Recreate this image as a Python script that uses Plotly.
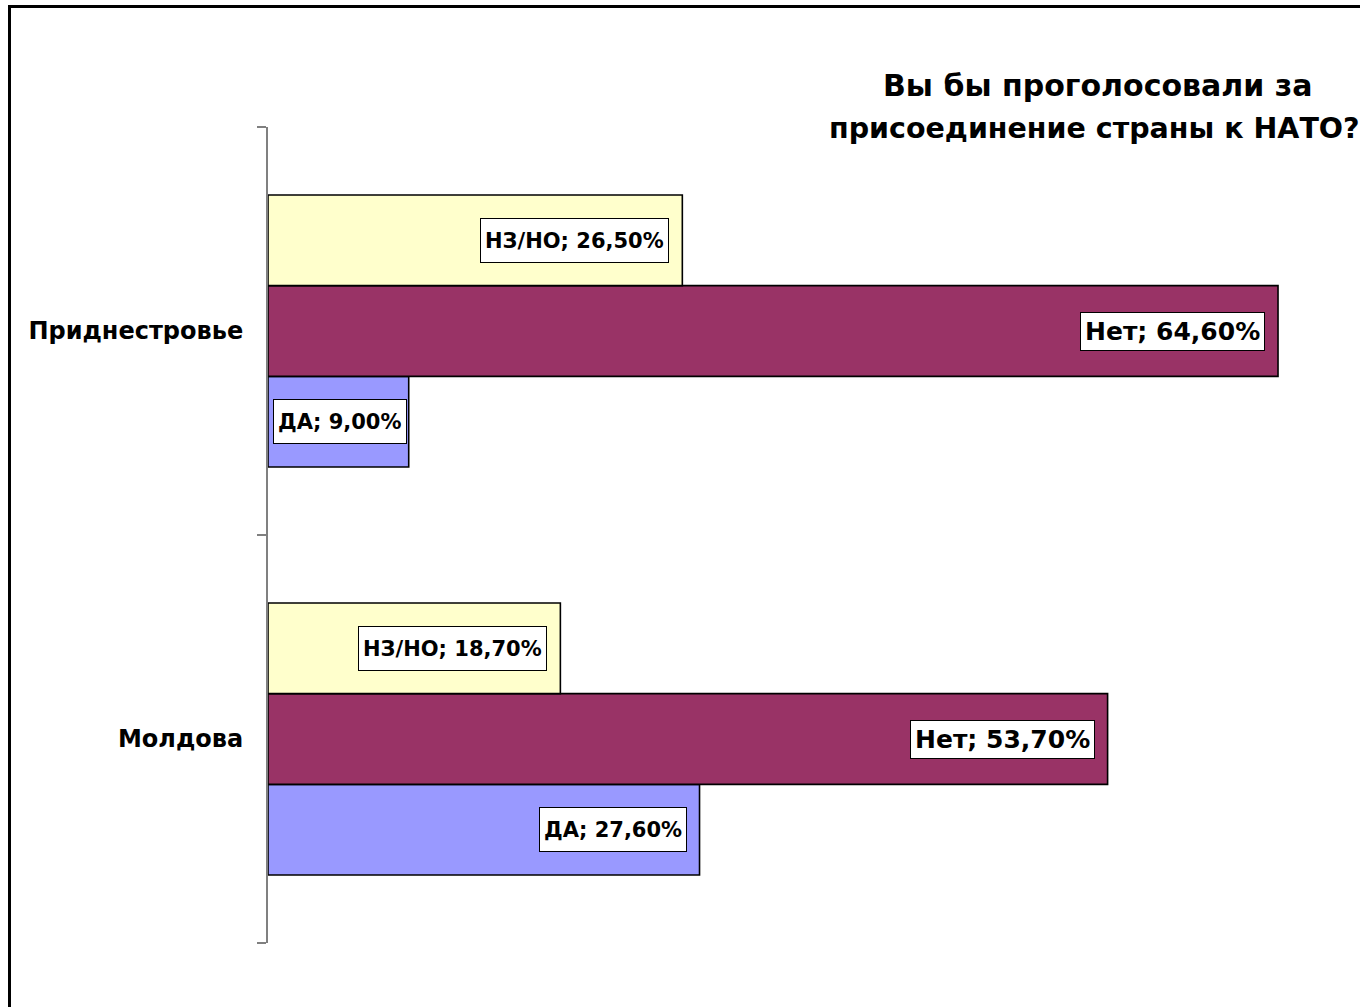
import plotly.graph_objects as go

categories = ["Молдова", "Приднестровье"]
series_names = ["ДА", "Нет", "НЗ/НО"]
da_values = [27.6, 9.0]
net_values = [53.7, 64.6]
nzno_values = [18.7, 26.5]
series_values = [da_values, net_values, nzno_values]
series_colors = ["#9999FF", "#993366", "#FFFFCC"]
title_lines = ["Вы бы проголосовали за", "присоединение страны к НАТО?"]

W, H = 1360, 1007
ML, MR, MT, MB = 268, 0, 127, 64
BARGAP = 0.333
PX_PER_UNIT = 15.635
plot_w = W - ML - MR
plot_h = H - MT - MB
x_max = plot_w / PX_PER_UNIT
FONT = "DejaVu Sans, Liberation Sans, Arial"

def fmt(v):
    return f"{v:.2f}".replace(".", ",") + "%"

fig = go.Figure()
for name, vals, col in zip(series_names, series_values, series_colors):
    fig.add_trace(go.Bar(
        name=name, y=categories, x=vals, orientation="h",
        marker=dict(color=col, line=dict(color="black", width=1.6)),
        hoverinfo="skip",
    ))

bar_w = (1 - BARGAP) / len(series_names)
annotations = []
for k, (name, vals) in enumerate(zip(series_names, series_values)):
    off = (k - (len(series_names) - 1) / 2) * bar_w
    big = name == "Нет"
    for ci, v in enumerate(vals):
        ann = dict(
            x=v, y=ci + off, xref="x", yref="y",
            text=f"<b>{name}; {fmt(v)}</b>",
            showarrow=False, xanchor="right", yanchor="middle",
            xshift=-13 if v > 10 else -2,
            font=dict(family=FONT, size=25 if big else 21, color="black"),
            bgcolor="white", bordercolor="black", borderwidth=1, borderpad=4,
        )
        if not big:
            ann["height"] = 35
        annotations.append(ann)

def px_to_paper_x(px):
    return (px - ML) / plot_w

def px_to_paper_y(py):
    return (H - MB - py) / plot_h

for line, px, py, fs in zip(title_lines, [1097, 1094], [86, 128], [30, 28.5]):
    annotations.append(dict(
        x=px_to_paper_x(px), y=px_to_paper_y(py), xref="paper", yref="paper",
        text=f"<b>{line}</b>", showarrow=False, xanchor="center", yanchor="middle",
        font=dict(family=FONT, size=fs, color="black"),
    ))

fig.update_layout(
    width=W, height=H,
    margin=dict(l=ML, r=MR, t=MT, b=MB, pad=0),
    barmode="group", bargap=BARGAP, bargroupgap=0,
    plot_bgcolor="white", paper_bgcolor="white",
    showlegend=False,
    annotations=annotations,
    shapes=[dict(
        type="rect", xref="paper", yref="paper",
        x0=px_to_paper_x(9.5), x1=1.3, y0=-0.3, y1=px_to_paper_y(6.5),
        line=dict(color="black", width=3), fillcolor="rgba(0,0,0,0)", layer="above",
    )],
)
fig.update_xaxes(range=[0, x_max], visible=False, fixedrange=True)
fig.update_yaxes(
    type="category", showline=True, linecolor="#808080", linewidth=2,
    ticks="outside", ticklen=9, tickwidth=2, tickcolor="#808080",
    tickson="boundaries", showgrid=False, zeroline=False, fixedrange=True,
    ticklabelstandoff=18,
    tickfont=dict(family=FONT, size=24, color="black"),
    tickprefix="<b>", ticksuffix="</b>",
)

fig.write_html("out.html", config={"displayModeBar": False},
               post_script="document.body.style.margin='0';")
